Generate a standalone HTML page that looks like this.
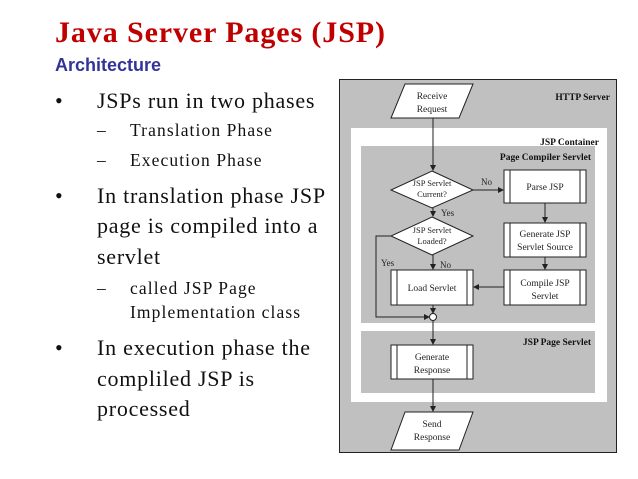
<!DOCTYPE html>
<html><head><meta charset="utf-8"><style>
body{margin:0;width:638px;height:479px;background:#fff;position:relative;overflow:hidden;font-family:"Liberation Serif",serif}
.t{position:absolute;white-space:nowrap;line-height:1}
.b{font-size:22px;color:#111;letter-spacing:0.75px}
.s{font-size:17.5px;color:#111;letter-spacing:1.1px}
</style></head><body>
<div class="t" style="left:55px;top:18px;font-size:30px;font-weight:bold;color:#c00000;letter-spacing:0.9px">Java Server Pages (JSP)</div>
<div class="t" style="left:55px;top:56px;font-family:'Liberation Sans',sans-serif;font-size:18px;font-weight:bold;color:#333399">Architecture</div>

<div class="t b" style="left:55px;top:90px">•</div>
<div class="t b" style="left:97px;top:90px">JSPs run in two phases</div>
<div class="t s" style="left:97px;top:122px">–</div>
<div class="t s" style="left:130px;top:122px">Translation Phase</div>
<div class="t s" style="left:97px;top:152px">–</div>
<div class="t s" style="left:130px;top:152px">Execution Phase</div>
<div class="t b" style="left:55px;top:185px">•</div>
<div class="t b" style="left:97px;top:185px">In translation phase JSP</div>
<div class="t b" style="left:97px;top:215px">page is compiled into a</div>
<div class="t b" style="left:97px;top:246px">servlet</div>
<div class="t s" style="left:97px;top:280px">–</div>
<div class="t s" style="left:130px;top:280px">called JSP Page</div>
<div class="t s" style="left:130px;top:304px">Implementation class</div>
<div class="t b" style="left:55px;top:337px">•</div>
<div class="t b" style="left:97px;top:337px">In execution phase the</div>
<div class="t b" style="left:97px;top:368px">compliled JSP is</div>
<div class="t b" style="left:97px;top:398px">processed</div>

<svg style="position:absolute;left:0;top:0" width="638" height="479" font-family="Liberation Serif,serif" font-size="9.5">
<defs><marker id="a" markerWidth="6" markerHeight="6" refX="5" refY="3" orient="auto"><path d="M0,0L6,3L0,6z" fill="#222"/></marker></defs>
<rect x="339.5" y="79.5" width="277" height="373" fill="#c0c0c0" stroke="#222"/>
<rect x="351" y="128" width="256" height="274" fill="#fff"/>
<rect x="361" y="146" width="234" height="177" fill="#c0c0c0"/>
<rect x="361" y="331" width="234" height="62" fill="#c0c0c0"/>
<g font-weight="bold" text-anchor="end" font-size="9.5" fill="#111">
<text x="610" y="100">HTTP Server</text>
<text x="599" y="145">JSP Container</text>
<text x="591" y="160">Page Compiler Servlet</text>
<text x="591" y="345">JSP Page Servlet</text>
</g>
<g stroke="#222" fill="none" stroke-width="1">
<line x1="433" y1="118" x2="433" y2="170" marker-end="url(#a)"/>
<line x1="473" y1="190" x2="503" y2="190" marker-end="url(#a)"/>
<line x1="433" y1="208" x2="433" y2="216" marker-end="url(#a)"/>
<line x1="433" y1="255" x2="433" y2="269" marker-end="url(#a)"/>
<line x1="545" y1="203" x2="545" y2="222" marker-end="url(#a)"/>
<line x1="545" y1="257" x2="545" y2="269" marker-end="url(#a)"/>
<line x1="504" y1="287" x2="474" y2="287" marker-end="url(#a)"/>
<polyline points="391,236 376,236 376,317 429,317" marker-end="url(#a)"/>
<line x1="433" y1="305" x2="433" y2="313" marker-end="url(#a)"/>
<line x1="433" y1="321" x2="433" y2="344" marker-end="url(#a)"/>
<line x1="433" y1="379" x2="433" y2="411" marker-end="url(#a)"/>
</g>
<g stroke="#222" fill="#fff">
<circle cx="433" cy="317" r="3.5"/>
<polygon points="405,84 473,84 459,118 391,118"/>
<polygon points="405,412 473,412 459,450 391,450"/>
<polygon points="432,171 473,190 432,208 391,190"/>
<polygon points="432,217 473,236 432,255 391,236"/>
<rect x="504" y="170" width="82" height="33"/>
<rect x="504" y="223" width="82" height="34"/>
<rect x="504" y="270" width="82" height="35"/>
<rect x="391" y="270" width="82" height="35"/>
<rect x="391" y="345" width="82" height="34"/>
</g>
<g stroke="#222">
<line x1="510" y1="170" x2="510" y2="203"/><line x1="580" y1="170" x2="580" y2="203"/>
<line x1="510" y1="223" x2="510" y2="257"/><line x1="580" y1="223" x2="580" y2="257"/>
<line x1="510" y1="270" x2="510" y2="305"/><line x1="580" y1="270" x2="580" y2="305"/>
<line x1="397" y1="270" x2="397" y2="305"/><line x1="467" y1="270" x2="467" y2="305"/>
<line x1="397" y1="345" x2="397" y2="379"/><line x1="467" y1="345" x2="467" y2="379"/>
</g>
<g text-anchor="middle" fill="#222">
<text x="432" y="99">Receive</text><text x="432" y="112">Request</text>
<text x="432" y="186" font-size="8.5">JSP Servlet</text><text x="432" y="197" font-size="8.5">Current?</text>
<text x="432" y="233" font-size="8.5">JSP Servlet</text><text x="432" y="244" font-size="8.5">Loaded?</text>
<text x="545" y="190">Parse JSP</text>
<text x="545" y="237">Generate JSP</text><text x="545" y="250">Servlet Source</text>
<text x="545" y="286">Compile JSP</text><text x="545" y="299">Servlet</text>
<text x="432" y="291">Load Servlet</text>
<text x="432" y="360">Generate</text><text x="432" y="373">Response</text>
<text x="432" y="427">Send</text><text x="432" y="440">Response</text>
</g>
<g fill="#222" font-size="9">
<text x="481" y="185">No</text>
<text x="441" y="216">Yes</text>
<text x="381" y="266">Yes</text>
<text x="440" y="268">No</text>
</g>
</svg>
</body></html>
